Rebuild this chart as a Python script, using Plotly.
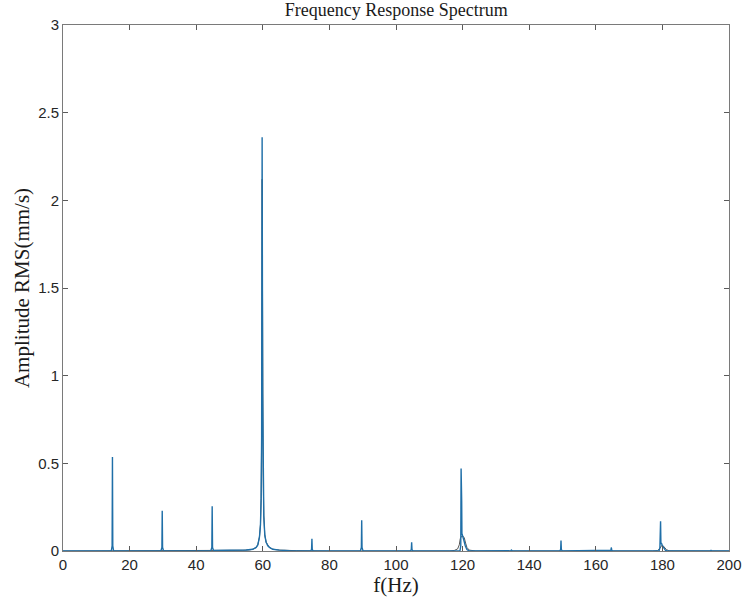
import plotly.graph_objects as go

# ---- data ----
# blue: measured spectrum (harmonic spikes)
spec_f = [0, 14.5, 14.75, 14.85, 14.95, 15.2,
          29.4, 29.7, 29.8, 29.9, 30.2,
          44.4, 44.7, 44.8, 44.9, 45.2,
          50, 55, 57, 58, 58.5, 59, 59.3, 59.5, 59.65, 59.8, 59.95, 60.1, 60.3, 60.6, 61, 61.5, 62, 63, 65, 68,
          74.4, 74.65, 74.75, 74.85, 75.1,
          89.3, 89.6, 89.7, 89.8, 90.1,
          104.3, 104.6, 104.7, 104.8, 105.1,
          119.2, 119.45, 119.55, 119.65, 119.72, 119.8, 119.9, 120.1, 120.4, 120.8, 121.3, 122,
          134.3, 134.55, 134.65, 134.75, 135.0,
          149.2, 149.45, 149.55, 149.65, 149.9,
          164.3, 164.55, 164.65, 164.8, 165.1,
          179.0, 179.25, 179.35, 179.45, 179.55, 179.7, 180.0, 180.4, 180.9, 181.4,
          194.3, 194.5, 194.6, 194.7, 195.0, 200]
spec_a = [0, 0, 0.03, 0.536, 0.03, 0,
          0, 0.02, 0.23, 0.02, 0,
          0.002, 0.02, 0.255, 0.02, 0.003,
          0.004, 0.006, 0.01, 0.02, 0.035, 0.08, 0.15, 0.3, 0.65, 2.36, 0.9, 0.45, 0.2, 0.09, 0.05, 0.03, 0.02, 0.01, 0.005, 0.002,
          0, 0.01, 0.07, 0.01, 0,
          0, 0.02, 0.175, 0.02, 0,
          0, 0.008, 0.05, 0.008, 0,
          0, 0.03, 0.47, 0.12, 0.29, 0.1, 0.09, 0.085, 0.06, 0.03, 0.008, 0,
          0, 0.001, 0.005, 0.001, 0,
          0, 0.01, 0.06, 0.01, 0,
          0, 0.004, 0.02, 0.004, 0,
          0, 0.02, 0.1, 0.17, 0.04, 0.045, 0.03, 0.015, 0.004, 0,
          0, 0.001, 0.005, 0.001, 0, 0]

# gray: fitted / response curve
resp_f = [0, 40, 50, 54, 56, 57, 58, 58.5, 59, 59.3, 59.5, 59.65, 59.8, 59.95, 60.1, 60.3, 60.6, 61, 61.5, 62, 63, 65, 70, 80,
          116, 117.5, 118.5, 119.0, 119.3, 119.7, 120.1, 120.5, 120.9, 121.3, 122, 124,
          177, 178.5, 179.3, 179.7, 180.2, 180.7, 181.2, 182, 200]
resp_a = [0, 0.001, 0.003, 0.004, 0.006, 0.01, 0.02, 0.035, 0.08, 0.15, 0.3, 0.65, 2.12, 0.9, 0.45, 0.2, 0.09, 0.05, 0.03, 0.02, 0.01, 0.005, 0.002, 0,
          0, 0.003, 0.012, 0.035, 0.07, 0.085, 0.085, 0.075, 0.045, 0.02, 0.005, 0,
          0, 0.002, 0.015, 0.03, 0.03, 0.02, 0.008, 0.001, 0]

x_ticks = [0, 20, 40, 60, 80, 100, 120, 140, 160, 180, 200]
y_ticks = [0, 0.5, 1, 1.5, 2, 2.5, 3]
y_tick_labels = ["0", "0.5", "1", "1.5", "2", "2.5", "3"]

fig = go.Figure()
fig.add_trace(go.Scatter(x=resp_f, y=resp_a, mode="lines",
                         line=dict(color="#555555", width=1), showlegend=False))
fig.add_trace(go.Scatter(x=spec_f, y=spec_a, mode="lines",
                         line=dict(color="#1f6fa8", width=1.4), showlegend=False))

serif = "Liberation Serif, Times New Roman, serif"
axis_common = dict(showline=True, linecolor="#7a7a7a", linewidth=1, mirror="ticks",
                   ticks="inside", ticklen=5, tickcolor="#5a5a5a", showgrid=False,
                   zeroline=False, automargin=False,
                   tickfont=dict(family="Liberation Sans, Arial, sans-serif", size=15, color="#262626"))

fig.update_layout(
    width=742, height=599,
    paper_bgcolor="white", plot_bgcolor="white",
    margin=dict(l=63, r=13, t=25, b=48),
    title=dict(text="Frequency Response Spectrum", x=0.534, xref="container", xanchor="center",
               y=0.984, yref="container", yanchor="middle",
               font=dict(family=serif, size=18, color="#1a1a1a")),
    xaxis=dict(range=[0, 200], tickvals=x_ticks, ticktext=[str(v) for v in x_ticks],
               title=dict(text="f(Hz)", standoff=2,
                          font=dict(family=serif, size=21, color="#1a1a1a")),
               **axis_common),
    yaxis=dict(range=[0, 3], tickvals=y_ticks, ticktext=y_tick_labels,
               title=dict(text="Amplitude RMS(mm/s)", standoff=2,
                          font=dict(family=serif, size=21, color="#1a1a1a")),
               **axis_common),
)

fig.write_html("out.html", config={"displayModeBar": False},
               post_script="document.body.style.margin='0';document.body.style.overflow='hidden';")
